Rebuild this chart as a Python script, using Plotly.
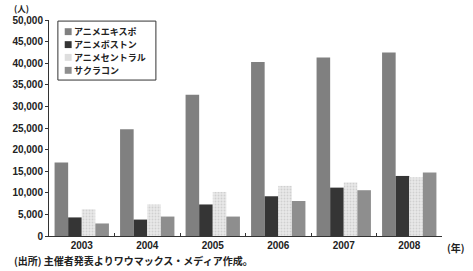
import plotly.graph_objects as go

years = ["2003", "2004", "2005", "2006", "2007", "2008"]
series_names = ["アニメエキスポ", "アニメボストン", "アニメセントラル", "サクラコン"]
anime_expo = [17000, 24700, 32700, 40300, 41300, 42500]
anime_boston = [4300, 3800, 7300, 9200, 11200, 13900]
anime_central = [6200, 7300, 10200, 11600, 12400, 13600]
sakura_con = [2900, 4500, 4500, 8100, 10600, 14700]
y_ticks = [0, 5000, 10000, 15000, 20000, 25000, 30000, 35000, 40000, 45000, 50000]

values = [anime_expo, anime_boston, anime_central, sakura_con]
colors = ["#808080", "#353535", "#e8e8e8", "#8e8e8e"]
patterns = ["", "", ".", ""]

jp = "Noto Sans CJK JP"
fig = go.Figure()
for name, vals, c, p in zip(series_names, values, colors, patterns):
    marker = dict(color=c, line=dict(width=0))
    if p:
        marker["pattern"] = dict(shape=p, fgcolor="#b8b8b8", bgcolor=c, size=3, solidity=0.3)
    fig.add_trace(go.Bar(x=years, y=vals, name=name, marker=marker, showlegend=False))

fig.update_layout(
    width=473, height=271,
    margin=dict(l=43, r=31, t=20, b=35),
    paper_bgcolor="white", plot_bgcolor="white",
    barmode="group", bargap=0.17, bargroupgap=0,
    font=dict(family="Liberation Sans", size=10, color="#222"),
    showlegend=False,
)
fig.update_xaxes(
    type="category", showline=True, linecolor="#333", linewidth=1,
    ticks="inside", ticklen=3, tickcolor="#333", tickson="boundaries",
    tickfont=dict(family="Liberation Sans", size=10, weight="bold", color="#222"),
    showgrid=False,
)
fig.update_yaxes(
    range=[0, 50000], tickvals=y_ticks, tickformat=",d",
    showline=True, linecolor="#333", linewidth=1,
    ticks="outside", ticklen=3, tickcolor="#333",
    tickfont=dict(family="Liberation Sans", size=10, weight="bold", color="#222"),
    showgrid=False, zeroline=False,
)

# Legend box (drawn in paper coordinates)
fig.add_shape(type="rect", xref="paper", yref="paper", x0=0.0226, x1=0.272, y0=0.722, y1=0.995,
              line=dict(color="#333", width=1), fillcolor="rgba(0,0,0,0)")
legend_y = [0.946, 0.886, 0.827, 0.767]
for name, c, ly in zip(series_names, colors, legend_y):
    fig.add_shape(type="rect", xref="paper", yref="paper", x0=0.040, x1=0.0576,
                  y0=ly - 0.016, y1=ly + 0.016, line=dict(width=0),
                  fillcolor="#dedede" if c == "#e8e8e8" else c)
    fig.add_annotation(text=name, xref="paper", yref="paper", x=0.059, y=ly,
                       xanchor="left", yanchor="middle", showarrow=False,
                       font=dict(family=jp, size=9, color="#222", weight="bold"))

fig.add_annotation(text="(人)", xref="paper", yref="paper", x=-0.093, y=1.092,
                   xanchor="left", yanchor="top", showarrow=False,
                   font=dict(family=jp, size=8.5, color="#222", weight="bold"))
fig.add_annotation(text="(年)", xref="paper", yref="paper", x=1.035, y=-0.052,
                   xanchor="center", yanchor="middle", showarrow=False,
                   font=dict(family=jp, size=10, color="#222", weight="bold"))
fig.add_annotation(text="(出所) 主催者発表よりワウマックス・メディア作成。", xref="paper", yref="paper",
                   x=-0.093, y=-0.157, xanchor="left", yanchor="bottom", showarrow=False,
                   font=dict(family=jp, size=10, color="#222", weight="bold"))

fig.write_html("out.html")
